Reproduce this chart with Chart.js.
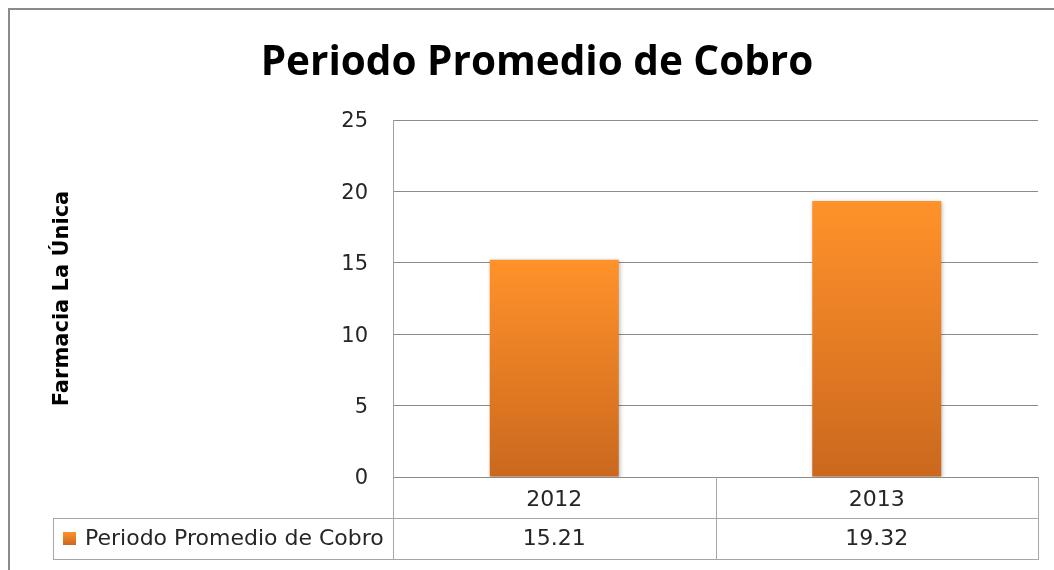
<!DOCTYPE html>
<html><head><meta charset="utf-8">
<script src="https://cdn.jsdelivr.net/npm/chart.js@4.4.1/dist/chart.umd.min.js"></script>
<style>html,body{margin:0;padding:0;background:#fff;overflow:hidden}#wrap{position:relative;width:1054px;height:570px}#c{position:absolute;left:0;top:0}</style>
</head><body><div id="wrap"><canvas id="c" width="1054" height="570"></canvas></div>
<script>
const chartTitle = 'Periodo Promedio de Cobro';
const yAxisTitle = 'Farmacia La Única';
const categories = ['2012', '2013'];
const seriesName = 'Periodo Promedio de Cobro';
const seriesValues = [15.21, 19.32];
const valueLabels = ['15.21', '19.32'];
const yTicks = [0, 5, 10, 15, 20, 25];

const FONT = "'DejaVu Sans', sans-serif";
const TFONT = "'Open Sans', 'Noto Sans', sans-serif";
const TXT = '#262626';
const GRID = '#8c8c8c';
const TABLE = '#a6a6a6';
const TOP_C = '#ff922a';
const BOT_C = '#cb681e';

function barGradient(ctx) {
  const chart = ctx.chart;
  if (!chart.chartArea || ctx.type !== 'data') return TOP_C;
  const y = chart.scales.y;
  const g = chart.ctx.createLinearGradient(0, y.getPixelForValue(ctx.raw), 0, y.getPixelForValue(0));
  g.addColorStop(0, TOP_C);
  g.addColorStop(1, BOT_C);
  return g;
}

const framePlugin = {
  id: 'frame',
  beforeDraw(chart) {
    const c = chart.ctx;
    c.save();
    c.strokeStyle = '#8a8a8a';
    c.lineWidth = 2;
    c.beginPath();
    c.moveTo(9, chart.height);
    c.lineTo(9, 9);
    c.lineTo(chart.width, 9);
    c.stroke();
    c.restore();
  }
};

const shadowPlugin = {
  id: 'barShadow',
  beforeDatasetsDraw(chart) {
    const c = chart.ctx;
    c.save();
    c.shadowColor = 'rgba(0,0,0,0.28)';
    c.shadowBlur = 4;
    c.shadowOffsetX = 1;
    c.shadowOffsetY = 1;
  },
  afterDatasetsDraw(chart) { chart.ctx.restore(); }
};

const tablePlugin = {
  id: 'dataTable',
  afterDraw(chart) {
    const c = chart.ctx;
    const xs = chart.scales.x;
    const area = chart.chartArea;
    const rowH = 41;
    const r0 = area.bottom, r1 = r0 + rowH, r2 = r1 + rowH;
    const legendLeft = 53;
    const bounds = [xs.left];
    for (let i = 0; i < categories.length - 1; i++) {
      bounds.push((xs.getPixelForValue(i) + xs.getPixelForValue(i + 1)) / 2);
    }
    bounds.push(xs.right);
    c.save();
    c.strokeStyle = TABLE;
    c.lineWidth = 1;
    c.beginPath();
    bounds.forEach(b => { const x = Math.round(b) + 0.5; c.moveTo(x, r0); c.lineTo(x, r2); });
    c.moveTo(legendLeft + 0.5, r1); c.lineTo(legendLeft + 0.5, r2);
    c.moveTo(legendLeft, r1 + 0.5); c.lineTo(xs.right + 1, r1 + 0.5);
    c.moveTo(legendLeft, r2 + 0.5); c.lineTo(xs.right + 1, r2 + 0.5);
    c.stroke();
    // legend key
    const midY = (r1 + r2) / 2;
    const g = c.createLinearGradient(0, midY - 6.5, 0, midY + 6.5);
    g.addColorStop(0, TOP_C); g.addColorStop(1, BOT_C);
    c.fillStyle = g;
    c.fillRect(legendLeft + 10, Math.round(midY - 6.5), 13, 13);
    c.fillStyle = TXT;
    c.font = "22px " + FONT;
    c.textBaseline = 'middle';
    c.textAlign = 'left';
    c.fillText(seriesName, legendLeft + 32, midY + 1);
    c.textAlign = 'center';
    valueLabels.forEach((v, i) => c.fillText(v, xs.getPixelForValue(i), midY + 1));
    c.restore();
  }
};

new Chart(document.getElementById('c'), {
  type: 'bar',
  data: {
    labels: categories,
    datasets: [{
      label: seriesName,
      data: seriesValues,
      backgroundColor: barGradient,
      borderWidth: 0,
      barPercentage: 0.4,
      categoryPercentage: 1.0
    }]
  },
  options: {
    responsive: false,
    animation: false,
    devicePixelRatio: 1,
    layout: { padding: { left: 36, right: 16, top: 0, bottom: 0 } },
    plugins: {
      legend: { display: false },
      tooltip: { enabled: false },
      title: {
        display: true,
        text: chartTitle,
        color: '#000',
        font: { family: TFONT, size: 40.5, weight: 'bold', lineHeight: 1.2 },
        padding: { top: 39, bottom: 32.4 }
      }
    },
    scales: {
      x: {
        grid: { display: false },
        border: { display: false },
        ticks: { color: TXT, font: { family: FONT, size: 22 }, padding: 2 },
        afterFit(s) { s.height = 93; }
      },
      y: {
        min: 0,
        max: 25,
        afterBuildTicks(s) { s.ticks = yTicks.map(v => ({ value: v })); },
        grid: { color: GRID, drawTicks: false, lineWidth: 1 },
        border: { display: true, color: '#a0a0a0' },
        ticks: { color: TXT, font: { family: FONT, size: 21 }, padding: 25, labelOffset: 2 },
        title: {
          display: true,
          text: yAxisTitle,
          color: '#000',
          font: { family: FONT, size: 21, weight: 'bold', lineHeight: 1.2 },
          padding: { top: 14, bottom: 0 }
        },
        afterFit(s) { s.width = 357; }
      }
    }
  },
  plugins: [framePlugin, shadowPlugin, tablePlugin]
});
</script>
</body></html>
